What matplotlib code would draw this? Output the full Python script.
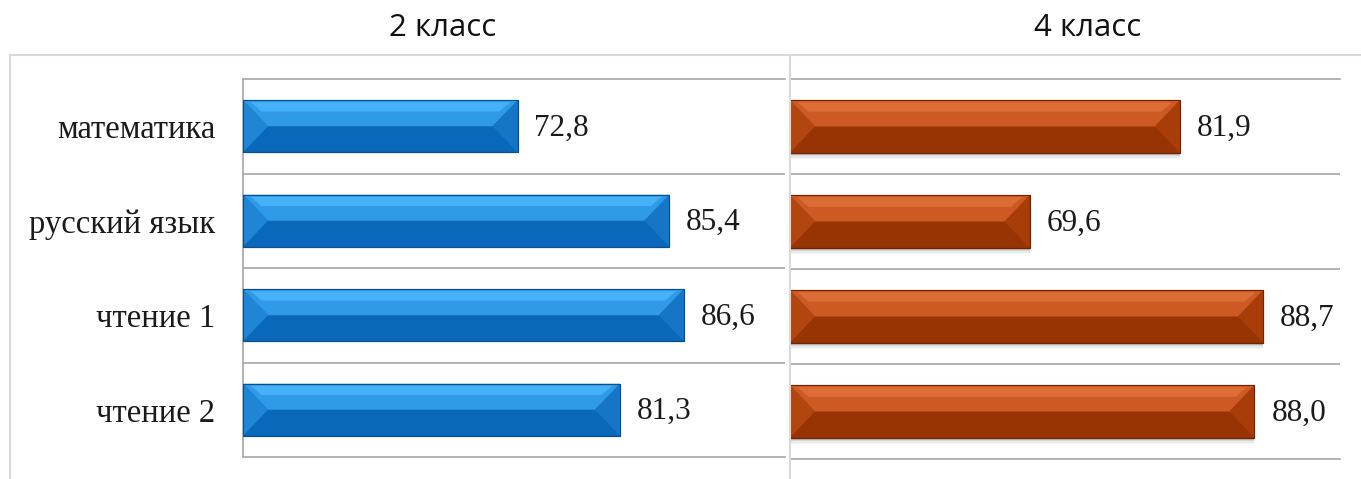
import numpy as np
import matplotlib
matplotlib.use("Agg")
import matplotlib.pyplot as plt
from matplotlib.patches import Polygon, Rectangle
from matplotlib.lines import Line2D

subjects = ["математика", "русский язык", "чтение 1", "чтение 2"]
grade2 = [72.8, 85.4, 86.6, 81.3]
grade4 = [81.9, 69.6, 88.7, 88.0]
titles = ["2 класс", "4 класс"]
xmin, xmax = 50, 95

blue = dict(face="#0a68bb", top="#2f9ae6", top2="#45b1f8", left="#1f86d6", right="#1576c8", edge="#0a4f8c")
orange = dict(face="#983404", top="#cc5a22", top2="#dd6c36", left="#b3460f", right="#a83d0a", edge="#6e2503")

fig = plt.figure(figsize=(13.61, 4.79), dpi=100)

# outer frame (light grey)
fig.add_artist(Line2D([10/1361, 1], [1-55/479, 1-55/479], color="#d9d9d9", lw=1.5))
fig.add_artist(Line2D([10/1361, 10/1361], [0, 1-55/479], color="#d9d9d9", lw=1.5))
fig.add_artist(Line2D([790/1361, 790/1361], [0, 1-55/479], color="#d9d9d9", lw=1.5))

ax1 = fig.add_axes([243/1361, 1-457/479, 542/1361, 378/479])
ax2 = fig.add_axes([790/1361, 1-459/479, 550/1361, 380/479])

def bevel_bars(ax, values, st, shadow=False):
    y = np.arange(len(values))
    h = 0.55
    # bevel width in data units from the pixel width of the axes
    bb = ax.get_window_extent()
    b = 25 * (xmax - xmin) / bb.width
    if shadow:
        for k, a in zip([1, 2, 3, 4, 5], [0.25, 0.17, 0.11, 0.07, 0.04]):
            ax.barh(y + k * 0.013, np.array(values) - xmin, left=xmin, height=h,
                    color="#404040", alpha=a, lw=0, zorder=1)
    bars = ax.barh(y, np.array(values) - xmin, left=xmin, height=h,
                   color=st["face"], edgecolor=st["edge"], linewidth=0.8, zorder=2)
    for r in bars:
        x0, x1 = r.get_x(), r.get_x() + r.get_width()
        top, bot = r.get_y(), r.get_y() + r.get_height()
        mid = (top + bot) / 2
        ax.add_patch(Polygon([(x0, top), (x1, top), (x1 - b, mid), (x0 + b, mid)],
                             closed=True, color=st["top"], lw=0, zorder=3))
        ax.add_patch(Polygon([(x0 + b * 0.3, top + 0.02), (x1 - b * 0.3, top + 0.02),
                              (x1 - b * 0.75, top + 0.12), (x0 + b * 0.75, top + 0.12)],
                             closed=True, color=st["top2"], lw=0, zorder=3))
        ax.add_patch(Polygon([(x0, top), (x0 + b, mid), (x0, bot)],
                             closed=True, color=st["left"], lw=0, zorder=3))
        ax.add_patch(Polygon([(x1, top), (x1 - b, mid), (x1, bot)],
                             closed=True, color=st["right"], lw=0, zorder=3))
        ax.add_patch(Rectangle((x0, top), x1 - x0, bot - top, fill=False,
                               edgecolor=st["edge"], lw=0.8, zorder=4))
    for yi, v in zip(y, values):
        ax.text(v + 1.4, yi + 0.02, f"{v:.1f}".replace(".", ","), va="center", ha="left",
                fontsize=22.5, family="Liberation Serif", color="#1a1a1a")

for ax, vals, st in [(ax1, grade2, blue), (ax2, grade4, orange)]:
    ax.set_xlim(xmin, xmax)
    ax.set_ylim(3.5, -0.5)
    ax.set_xticks([])
    ax.set_yticks([])
    ax.set_yticks([0.5, 1.5, 2.5], minor=True)
    ax.tick_params(which="minor", length=0)
    ax.grid(True, which="minor", axis="y", color="#a6a6a6", lw=1.2)
    ax.spines["right"].set_visible(False)
    for s in ["top", "bottom", "left"]:
        ax.spines[s].set_color("#a6a6a6")
        ax.spines[s].set_linewidth(1.2)

ax2.spines["left"].set_visible(False)
ax1.set_yticks(range(len(subjects)))
ax1.set_yticklabels(subjects, fontsize=23.5, family="Liberation Serif", color="#1a1a1a")
ax1.tick_params(axis="y", which="major", length=0, pad=20)

fig.text(443/1361, 1-28/479, titles[0], ha="center", va="center", fontsize=22.5,
         family="Open Sans", color="#111111")
fig.text(1088/1361, 1-28/479, titles[1], ha="center", va="center", fontsize=22.5,
         family="Open Sans", color="#111111")

bevel_bars(ax1, grade2, blue)
bevel_bars(ax2, grade4, orange, shadow=True)

fig.savefig("out.png", dpi=100)
